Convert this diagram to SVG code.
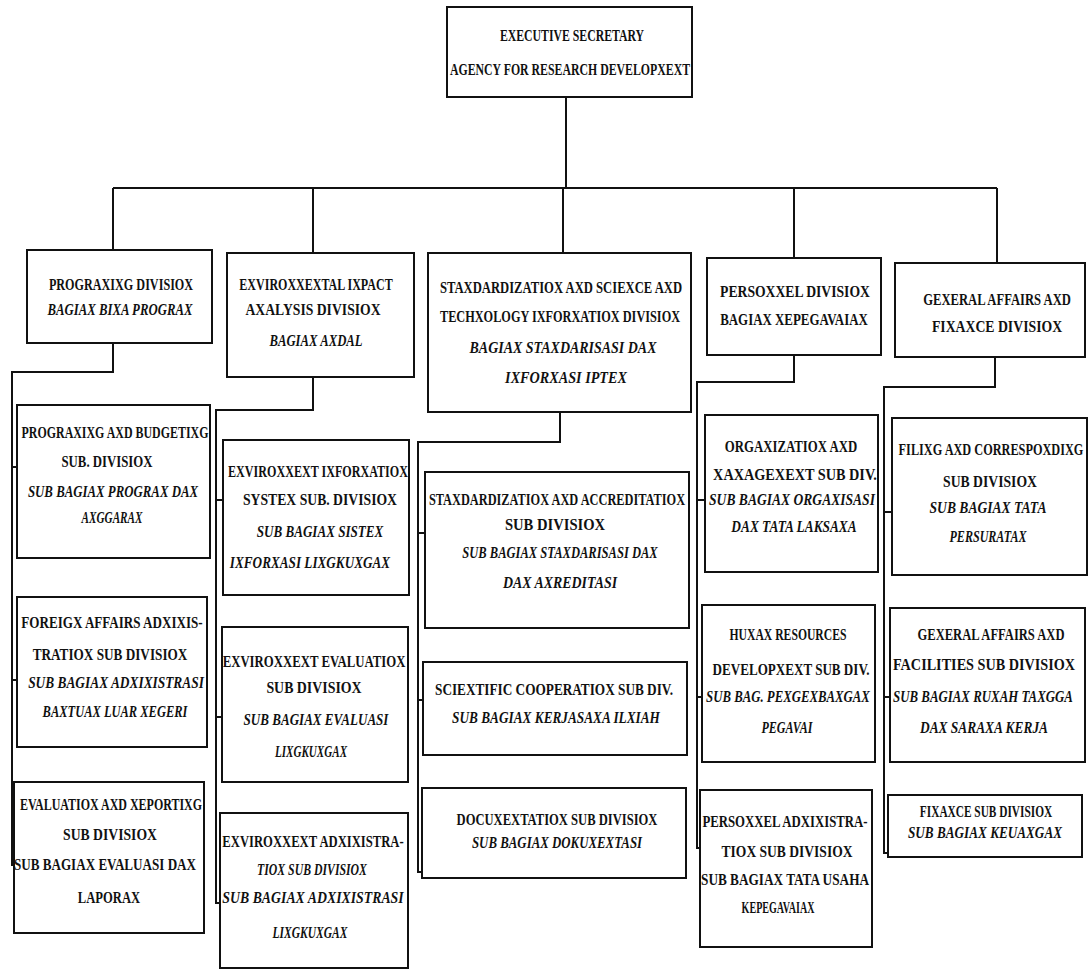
<svg xmlns="http://www.w3.org/2000/svg" width="1089" height="970" viewBox="0 0 1089 970">
<style>
rect.box{fill:#fff;stroke:#111;stroke-width:2}
.con path{fill:none;stroke:#111;stroke-width:2}
text{font-family:"Liberation Serif","DejaVu Serif",serif;font-weight:bold;font-size:17px;fill:#111;text-anchor:middle}
text.i{font-style:italic}
</style>
<rect width="1089" height="970" fill="#fff"/>
<g class="con">
<path d="M566 97V188M113 188H997M113 188V250M313 188V253M563 188V253M794 188V258M997 188V263"/>
<path d="M113 343V372H12V865H14M12 467H17M12 680H17"/>
<path d="M313 377V410H216V903H220M216 500H223M216 717H222"/>
<path d="M560 412V442H418V872H422M418 533H425M418 700H423"/>
<path d="M794 355V382H697V848H700M697 500H705M697 697H702"/>
<path d="M995 357V387H884V853H888M884 512H892M884 697H890"/>
</g>
<g id="root"><rect class="box" x="447" y="7" width="245" height="90"/>
<text transform="translate(572 41) scale(0.7 1)" textLength="206" lengthAdjust="spacingAndGlyphs">EXECUTIVE SECRETARY</text>
<text transform="translate(570 75) scale(0.7 1)" textLength="343" lengthAdjust="spacingAndGlyphs">AGENCY FOR RESEARCH DEVELOPXEXT</text></g>
<g id="d1"><rect class="box" x="27" y="250" width="185" height="93"/>
<text transform="translate(121 290) scale(0.7 1)" textLength="206" lengthAdjust="spacingAndGlyphs">PROGRAXIXG DIVISIOX</text>
<text class="i" transform="translate(120 315) scale(0.7 1)" textLength="207" lengthAdjust="spacingAndGlyphs">BAGIAX BIXA PROGRAX</text></g>
<g id="d2"><rect class="box" x="227" y="253" width="187" height="124"/>
<text transform="translate(316 290) scale(0.7 1)" textLength="219" lengthAdjust="spacingAndGlyphs">EXVIROXXEXTAL IXPACT</text>
<text transform="translate(313 315) scale(0.7 1)" textLength="193" lengthAdjust="spacingAndGlyphs">AXALYSIS DIVISIOX</text>
<text class="i" transform="translate(316 346) scale(0.7 1)" textLength="133" lengthAdjust="spacingAndGlyphs">BAGIAX AXDAL</text></g>
<g id="d3"><rect class="box" x="428" y="253" width="263" height="159"/>
<text transform="translate(561 293) scale(0.7 1)" textLength="346" lengthAdjust="spacingAndGlyphs">STAXDARDIZATIOX AXD SCIEXCE AXD</text>
<text transform="translate(560 322) scale(0.7 1)" textLength="343" lengthAdjust="spacingAndGlyphs">TECHXOLOGY IXFORXATIOX DIVISIOX</text>
<text class="i" transform="translate(563 353) scale(0.7 1)" textLength="267" lengthAdjust="spacingAndGlyphs">BAGIAX STAXDARISASI DAX</text>
<text class="i" transform="translate(566 383) scale(0.7 1)" textLength="174" lengthAdjust="spacingAndGlyphs">IXFORXASI IPTEX</text></g>
<g id="d4"><rect class="box" x="707" y="258" width="174" height="97"/>
<text transform="translate(795 297) scale(0.7 1)" textLength="214" lengthAdjust="spacingAndGlyphs">PERSOXXEL  DIVISIOX</text>
<text transform="translate(794 325) scale(0.7 1)" textLength="211" lengthAdjust="spacingAndGlyphs">BAGIAX  XEPEGAVAIAX</text></g>
<g id="d5"><rect class="box" x="895" y="263" width="190" height="94"/>
<text transform="translate(997 305) scale(0.7 1)" textLength="211" lengthAdjust="spacingAndGlyphs">GEXERAL AFFAIRS AXD</text>
<text transform="translate(997 332) scale(0.7 1)" textLength="186" lengthAdjust="spacingAndGlyphs">FIXAXCE  DIVISIOX</text></g>
<g id="s1a"><rect class="box" x="17" y="405" width="193" height="153"/>
<text transform="translate(115 438) scale(0.7 1)" textLength="267" lengthAdjust="spacingAndGlyphs">PROGRAXIXG AXD BUDGETIXG</text>
<text transform="translate(107 467) scale(0.7 1)" textLength="130" lengthAdjust="spacingAndGlyphs">SUB. DIVISIOX</text>
<text class="i" transform="translate(113 497) scale(0.7 1)" textLength="243" lengthAdjust="spacingAndGlyphs">SUB BAGIAX PROGRAX DAX</text>
<text class="i" transform="translate(112 523) scale(0.7 1)" textLength="87" lengthAdjust="spacingAndGlyphs">AXGGARAX</text></g>
<g id="s1b"><rect class="box" x="17" y="597" width="190" height="150"/>
<text transform="translate(112 628) scale(0.7 1)" textLength="259" lengthAdjust="spacingAndGlyphs">FOREIGX AFFAIRS ADXIXIS-</text>
<text transform="translate(110 660) scale(0.7 1)" textLength="221" lengthAdjust="spacingAndGlyphs">TRATIOX SUB DIVISIOX</text>
<text class="i" transform="translate(116 688) scale(0.7 1)" textLength="251" lengthAdjust="spacingAndGlyphs">SUB BAGIAX ADXIXISTRASI</text>
<text class="i" transform="translate(115 717) scale(0.7 1)" textLength="207" lengthAdjust="spacingAndGlyphs">BAXTUAX LUAR XEGERI</text></g>
<g id="s1c"><rect class="box" x="14" y="782" width="190" height="151"/>
<text transform="translate(111 810) scale(0.7 1)" textLength="260" lengthAdjust="spacingAndGlyphs">EVALUATIOX AXD XEPORTIXG</text>
<text transform="translate(110 840) scale(0.7 1)" textLength="134" lengthAdjust="spacingAndGlyphs">SUB DIVISIOX</text>
<text transform="translate(105 870) scale(0.7 1)" textLength="260" lengthAdjust="spacingAndGlyphs">SUB BAGIAX EVALUASI DAX</text>
<text transform="translate(109 903) scale(0.7 1)" textLength="89" lengthAdjust="spacingAndGlyphs">LAPORAX</text></g>
<g id="s2a"><rect class="box" x="223" y="440" width="186" height="155"/>
<text transform="translate(318 477) scale(0.7 1)" textLength="257" lengthAdjust="spacingAndGlyphs">EXVIROXXEXT IXFORXATIOX</text>
<text transform="translate(320 505) scale(0.7 1)" textLength="220" lengthAdjust="spacingAndGlyphs">SYSTEX SUB. DIVISIOX</text>
<text class="i" transform="translate(320 537) scale(0.7 1)" textLength="181" lengthAdjust="spacingAndGlyphs">SUB BAGIAX SISTEX</text>
<text class="i" transform="translate(310 568) scale(0.7 1)" textLength="229" lengthAdjust="spacingAndGlyphs">IXFORXASI LIXGKUXGAX</text></g>
<g id="s2b"><rect class="box" x="222" y="627" width="186" height="155"/>
<text transform="translate(314 667) scale(0.7 1)" textLength="261" lengthAdjust="spacingAndGlyphs">EXVIROXXEXT EVALUATIOX</text>
<text transform="translate(314 693) scale(0.7 1)" textLength="136" lengthAdjust="spacingAndGlyphs">SUB DIVISIOX</text>
<text class="i" transform="translate(316 725) scale(0.7 1)" textLength="207" lengthAdjust="spacingAndGlyphs">SUB BAGIAX EVALUASI</text>
<text class="i" transform="translate(311 757) scale(0.7 1)" textLength="103" lengthAdjust="spacingAndGlyphs">LIXGKUXGAX</text></g>
<g id="s2c"><rect class="box" x="220" y="813" width="188" height="155"/>
<text transform="translate(313 847) scale(0.7 1)" textLength="259" lengthAdjust="spacingAndGlyphs">EXVIROXXEXT ADXIXISTRA-</text>
<text class="i" transform="translate(312 875) scale(0.7 1)" textLength="157" lengthAdjust="spacingAndGlyphs">TIOX SUB DIVISIOX</text>
<text class="i" transform="translate(313 903) scale(0.7 1)" textLength="259" lengthAdjust="spacingAndGlyphs">SUB BAGIAX ADXIXISTRASI</text>
<text class="i" transform="translate(310 938) scale(0.7 1)" textLength="107" lengthAdjust="spacingAndGlyphs">LIXGKUXGAX</text></g>
<g id="s3a"><rect class="box" x="425" y="472" width="264" height="156"/>
<text transform="translate(557 505) scale(0.7 1)" textLength="366" lengthAdjust="spacingAndGlyphs">STAXDARDIZATIOX AXD ACCREDITATIOX</text>
<text transform="translate(555 530) scale(0.7 1)" textLength="143" lengthAdjust="spacingAndGlyphs">SUB DIVISIOX</text>
<text class="i" transform="translate(560 558) scale(0.7 1)" textLength="279" lengthAdjust="spacingAndGlyphs">SUB BAGIAX STAXDARISASI DAX</text>
<text class="i" transform="translate(560 588) scale(0.7 1)" textLength="163" lengthAdjust="spacingAndGlyphs">DAX AXREDITASI</text></g>
<g id="s3b"><rect class="box" x="423" y="662" width="264" height="93"/>
<text transform="translate(554 695) scale(0.7 1)" textLength="340" lengthAdjust="spacingAndGlyphs">SCIEXTIFIC COOPERATIOX SUB DIV.</text>
<text class="i" transform="translate(556 723) scale(0.7 1)" textLength="297" lengthAdjust="spacingAndGlyphs">SUB BAGIAX KERJASAXA ILXIAH</text></g>
<g id="s3c"><rect class="box" x="422" y="788" width="264" height="90"/>
<text transform="translate(557 825) scale(0.7 1)" textLength="287" lengthAdjust="spacingAndGlyphs">DOCUXEXTATIOX SUB DIVISIOX</text>
<text class="i" transform="translate(557 848) scale(0.7 1)" textLength="243" lengthAdjust="spacingAndGlyphs">SUB BAGIAX DOKUXEXTASI</text></g>
<g id="s4a"><rect class="box" x="705" y="415" width="173" height="157"/>
<text transform="translate(791 452) scale(0.7 1)" textLength="189" lengthAdjust="spacingAndGlyphs">ORGAXIZATIOX  AXD</text>
<text transform="translate(795 480) scale(0.7 1)" textLength="234" lengthAdjust="spacingAndGlyphs">XAXAGEXEXT SUB  DIV.</text>
<text class="i" transform="translate(792 505) scale(0.7 1)" textLength="237" lengthAdjust="spacingAndGlyphs">SUB BAGIAX ORGAXISASI</text>
<text class="i" transform="translate(794 532) scale(0.7 1)" textLength="179" lengthAdjust="spacingAndGlyphs">DAX TATA LAKSAXA</text></g>
<g id="s4b"><rect class="box" x="702" y="605" width="173" height="157"/>
<text transform="translate(788 640) scale(0.7 1)" textLength="167" lengthAdjust="spacingAndGlyphs">HUXAX RESOURCES</text>
<text transform="translate(791 675) scale(0.7 1)" textLength="224" lengthAdjust="spacingAndGlyphs">DEVELOPXEXT SUB DIV.</text>
<text class="i" transform="translate(788 702) scale(0.7 1)" textLength="234" lengthAdjust="spacingAndGlyphs">SUB BAG. PEXGEXBAXGAX</text>
<text class="i" transform="translate(787 733) scale(0.7 1)" textLength="73" lengthAdjust="spacingAndGlyphs">PEGAVAI</text></g>
<g id="s4c"><rect class="box" x="700" y="790" width="172" height="157"/>
<text transform="translate(785 827) scale(0.7 1)" textLength="236" lengthAdjust="spacingAndGlyphs">PERSOXXEL ADXIXISTRA-</text>
<text transform="translate(787 857) scale(0.7 1)" textLength="187" lengthAdjust="spacingAndGlyphs">TIOX SUB DIVISIOX</text>
<text transform="translate(785 885) scale(0.7 1)" textLength="240" lengthAdjust="spacingAndGlyphs">SUB BAGIAX TATA USAHA</text>
<text transform="translate(778 913) scale(0.7 1)" textLength="104" lengthAdjust="spacingAndGlyphs">KEPEGAVAIAX</text></g>
<g id="s5a"><rect class="box" x="892" y="418" width="195" height="157"/>
<text transform="translate(991 455) scale(0.7 1)" textLength="264" lengthAdjust="spacingAndGlyphs">FILIXG AXD CORRESPOXDIXG</text>
<text transform="translate(990 487) scale(0.7 1)" textLength="134" lengthAdjust="spacingAndGlyphs">SUB DIVISIOX</text>
<text class="i" transform="translate(988 513) scale(0.7 1)" textLength="167" lengthAdjust="spacingAndGlyphs">SUB BAGIAX TATA</text>
<text class="i" transform="translate(988 542) scale(0.7 1)" textLength="110" lengthAdjust="spacingAndGlyphs">PERSURATAX</text></g>
<g id="s5b"><rect class="box" x="890" y="608" width="195" height="154"/>
<text transform="translate(991 640) scale(0.7 1)" textLength="210" lengthAdjust="spacingAndGlyphs">GEXERAL AFFAIRS AXD</text>
<text transform="translate(984 670) scale(0.7 1)" textLength="260" lengthAdjust="spacingAndGlyphs">FACILITIES SUB DIVISIOX</text>
<text class="i" transform="translate(983 702) scale(0.7 1)" textLength="257" lengthAdjust="spacingAndGlyphs">SUB BAGIAX RUXAH TAXGGA</text>
<text class="i" transform="translate(984 733) scale(0.7 1)" textLength="183" lengthAdjust="spacingAndGlyphs">DAX SARAXA KERJA</text></g>
<g id="s5c"><rect class="box" x="888" y="795" width="194" height="62"/>
<text transform="translate(986 817) scale(0.7 1)" textLength="189" lengthAdjust="spacingAndGlyphs">FIXAXCE SUB DIVISIOX</text>
<text class="i" transform="translate(985 838) scale(0.7 1)" textLength="220" lengthAdjust="spacingAndGlyphs">SUB  BAGIAX KEUAXGAX</text></g>
</svg>
